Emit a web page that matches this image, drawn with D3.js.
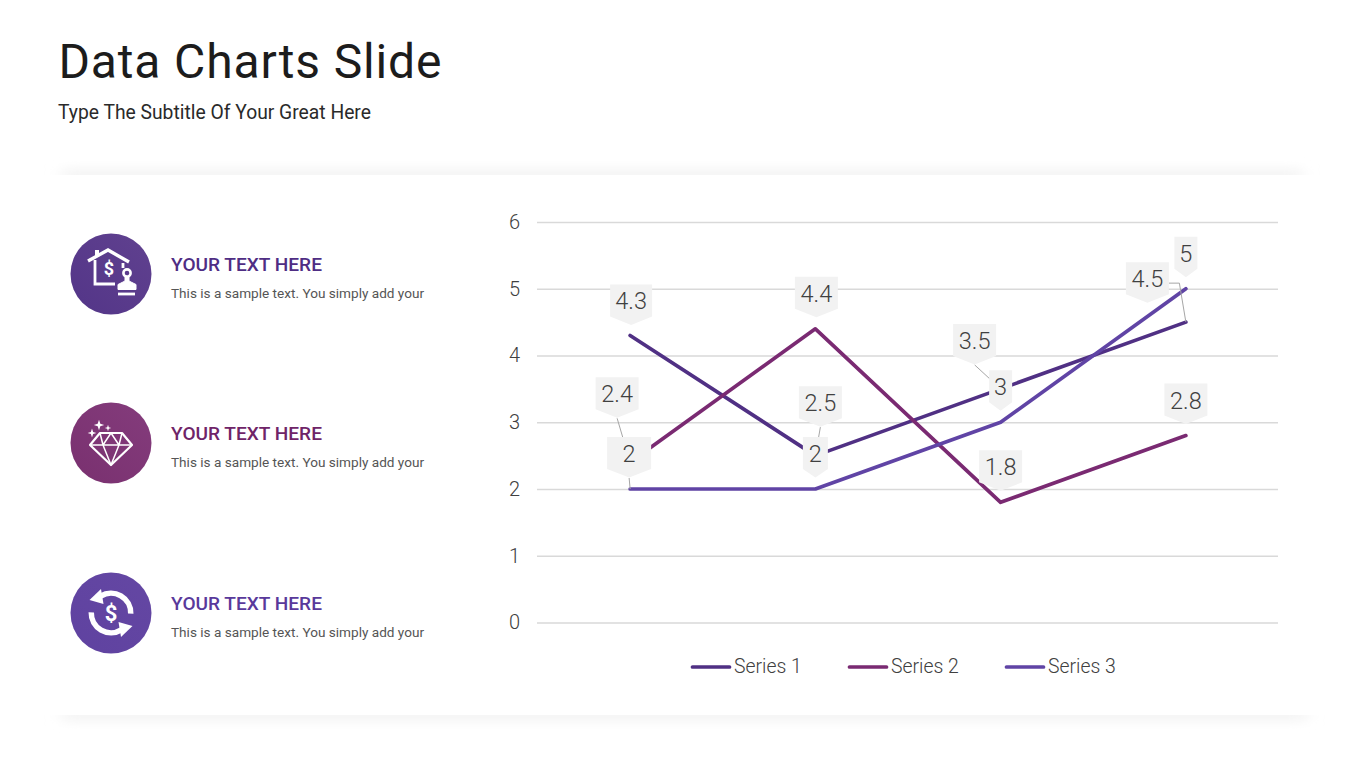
<!DOCTYPE html>
<html>
<head>
<meta charset="utf-8">
<script src="https://cdn.jsdelivr.net/npm/d3@7"></script>
<style>
  html, body { margin: 0; padding: 0; background: #fff; }
  svg { display: block; font-family: Roboto, sans-serif; }
</style>
</head>
<body>
<div id="chart"></div>
<script>
// chart data
const categories = ["Category 1", "Category 2", "Category 3", "Category 4"];
const series1 = [4.3, 2.5, 3.5, 4.5];
const series2 = [2.4, 4.4, 1.8, 2.8];
const series3 = [2, 2, 3, 5];
const seriesNames = ["Series 1", "Series 2", "Series 3"];
const yTicks = [0, 1, 2, 3, 4, 5, 6];
const infoHeadings = ["YOUR TEXT HERE", "YOUR TEXT HERE", "YOUR TEXT HERE"];
const infoText = "This is a sample text. You simply add your";

// layout and colours
const lineColors = ["#503084", "#7a2a72", "#6044a5"];
const circleColors = [["#533588", "#60418f"], ["#79306f", "#843c7c"], ["#5f42a0", "#6447a3"]];
const headingColors = ["#4f2d84", "#6f2468", "#59399b"];
const infoY = [274, 443, 613];

// where each data label sits, relative to its point: dx, dy, box width
const labelLayout = [
  [[1, -34, 42], [5, -52.5, 43], [-26, -48, 43], [-38.5, -43, 43]],
  [[-13, -68, 43], [1, -35, 43], [0, -35, 43], [0, -35, 43]],
  [[-1, -35, 44], [0, -35, 25], [0, -35, 23], [0, -35, 23]]
];
// labels that get a leader line back to the point
const leaders = [[1, 0], [2, 0], [0, 1], [0, 2]];

const svg = d3.select("#chart").append("svg").attr("width", 1370).attr("height", 771);
const defs = svg.append("defs");

defs.append("filter").attr("id", "soft")
  .attr("x", "-5%").attr("y", "-300%").attr("width", "110%").attr("height", "700%")
  .append("feGaussianBlur").attr("stdDeviation", "8 5");

circleColors.forEach((c, i) => {
  const g = defs.append("linearGradient").attr("id", "circle" + i)
    .attr("x1", 0).attr("y1", 1).attr("x2", 1).attr("y2", 0);
  g.append("stop").attr("offset", "0%").attr("stop-color", c[0]);
  g.append("stop").attr("offset", "100%").attr("stop-color", c[1]);
});

// soft band above and below the panel
svg.append("rect").attr("x", 62).attr("y", 168).attr("width", 1240).attr("height", 14)
  .attr("fill", "#f5f5f5").attr("filter", "url(#soft)");
svg.append("rect").attr("x", 62).attr("y", 708).attr("width", 1245).attr("height", 14)
  .attr("fill", "#f5f5f5").attr("filter", "url(#soft)");
svg.append("rect").attr("x", 0).attr("y", 175).attr("width", 1370).attr("height", 540).attr("fill", "#fff");

// title
svg.append("text").attr("x", 58.5).attr("y", 78)
  .attr("font-size", 48).attr("letter-spacing", 0.85).attr("fill", "#1c1c1c").text("Data Charts Slide");
svg.append("text").attr("x", 58).attr("y", 119)
  .attr("font-size", 19.3).attr("fill", "#2a2a2a").text("Type The Subtitle Of Your Great Here");

// left column
const info = svg.selectAll("g.info").data(infoHeadings).enter().append("g")
  .attr("class", "info")
  .attr("transform", (d, i) => `translate(111,${infoY[i]})`);

info.append("circle").attr("r", 40.5).attr("fill", (d, i) => `url(#circle${i})`);
info.append("text").attr("x", 60).attr("y", -3)
  .attr("font-size", 19.1).attr("font-weight", 500)
  .attr("fill", (d, i) => headingColors[i]).text(d => d);
info.append("text").attr("x", 60).attr("y", 24)
  .attr("font-size", 13.6).attr("fill", "#555").text(infoText);

// house and stamp icon
const house = d3.select(info.nodes()[0]).append("g")
  .attr("fill", "none").attr("stroke", "#fff").attr("stroke-width", 2.8);
house.append("path").attr("d", "M-23,-13 L-3,-24 L18,-12").attr("stroke-width", 3.4);
house.append("path").attr("d", "M-14,-24 V-18").attr("stroke-width", 4);
house.append("path").attr("d", "M-16,-14 V10 H4 M12,-11 V-6");
house.append("circle").attr("cx", 16).attr("cy", -1).attr("r", 3.6).attr("stroke-width", 2.6);
house.append("path").attr("d", "M14,3 V7 L7,10.5 V15.5 H25 V10.5 L18,7 V3 Z")
  .attr("fill", "#fff").attr("stroke-width", 1);
house.append("path").attr("d", "M7,20 H24").attr("stroke-width", 2.8);
house.append("text").attr("x", -2).attr("y", 1).attr("text-anchor", "middle")
  .attr("fill", "#fff").attr("stroke", "none")
  .attr("font-size", 18).attr("font-weight", 700).text("$");

// diamond icon
const gem = d3.select(info.nodes()[1]).append("g")
  .attr("fill", "none").attr("stroke", "#fff").attr("stroke-width", 1.5).attr("stroke-linejoin", "round");
gem.append("path").attr("d", "M-11,-10 H11 L21,2 L0,22 L-21,2 Z").attr("stroke-width", 2.2);
gem.append("path").attr("d", "M-21,2 H21 M-11,-10 L-8,2 L0,-10 L8,2 L11,-10 M-8,2 L0,22 L8,2");
const sparkle = "M0,-4 L1,-1 L4,0 L1,1 L0,4 L-1,1 L-4,0 L-1,-1 Z";
gem.selectAll("path.spark").data([[-12, -18, 1.3], [-3, -15, 0.8], [-19, -10, 1.1]]).enter().append("path")
  .attr("class", "spark").attr("d", sparkle).attr("fill", "#fff").attr("stroke", "none")
  .attr("transform", d => `translate(${d[0]},${d[1]}) scale(${d[2]})`);

// circular arrows and dollar icon
const swap = d3.select(info.nodes()[2]).append("g").attr("fill", "#fff");
const ring = d3.arc().innerRadius(17).outerRadius(22.5);
const half = swap.selectAll("g").data([0, 180]).enter().append("g")
  .attr("transform", d => `rotate(${d})`);
half.append("path").attr("d", ring({ startAngle: -0.55, endAngle: 1.6 }));
half.append("path").attr("d", "M-21.5,-13 L-10,-24 L-7.5,-9 Z");
swap.append("text").attr("y", 8).attr("text-anchor", "middle")
  .attr("font-size", 22).attr("font-weight", 700).text("$");

// scales
const x = d3.scaleBand().domain(categories).range([537.5, 1278.5]);
const y = d3.scaleLinear().domain([0, 6]).range([622.5, 222]);
const px = d => x(d) + x.bandwidth() / 2;

// y axis with gridlines
const axis = svg.append("g").attr("transform", "translate(537,0)")
  .call(d3.axisLeft(y).tickValues(yTicks).tickFormat(d3.format("d")).tickSize(-741).tickPadding(17));
axis.select(".domain").remove();
axis.selectAll(".tick line").attr("stroke", "#d9d9d9").attr("stroke-width", 1.4);
axis.selectAll(".tick text").attr("font-family", "Roboto, sans-serif")
  .attr("font-size", 20).attr("font-weight", 300).attr("fill", "#404040");

// series lines
const allSeries = [series1, series2, series3];
const line = d3.line().x((d, i) => px(categories[i])).y(d => y(d));
svg.selectAll("path.series").data(allSeries).enter().append("path")
  .attr("class", "series").attr("d", line).attr("fill", "none")
  .attr("stroke", (d, i) => lineColors[i]).attr("stroke-width", 3.7)
  .attr("stroke-linecap", "round").attr("stroke-linejoin", "round");

// data labels: gathered first so leaders can go under every box
const labels = [];
allSeries.forEach((vals, s) => vals.forEach((v, i) => {
  const [dx, dy, w] = labelLayout[s][i];
  const cx = px(categories[i]), cy = y(v);
  labels.push({ s, i, v, w, px: cx, py: cy, x: cx + dx, y: cy + dy });
}));

const find = (s, i) => labels.find(l => l.s === s && l.i === i);
const leaderPaths = leaders.map(([s, i]) => {
  const l = find(s, i);
  return `M${l.x},${l.y + 24} L${l.px},${l.py}`;
});
// the 4.5 label leaves from its side with a small elbow
const side = find(0, 3);
leaderPaths.push(`M${side.x + 21.5},${side.y + 4} H${side.x + 32} L${side.px},${side.py}`);

svg.selectAll("path.leader").data(leaderPaths).enter().append("path")
  .attr("class", "leader").attr("d", d => d).attr("fill", "none")
  .attr("stroke", "#a6a6a6").attr("stroke-width", 1);

const lab = svg.selectAll("g.label").data(labels).enter().append("g")
  .attr("class", "label").attr("transform", d => `translate(${d.x},${d.y})`);
lab.append("path")
  .attr("d", d => `M${-d.w / 2},-17 H${d.w / 2} V15 L0,23.5 L${-d.w / 2},15 Z`)
  .attr("fill", "#f2f2f2");
lab.append("text").attr("text-anchor", "middle").attr("y", 8)
  .attr("font-size", 23.5).attr("font-weight", 300).attr("fill", "#404040")
  .text(d => d.v);

// legend
const legend = svg.selectAll("g.legend").data(seriesNames).enter().append("g")
  .attr("class", "legend").attr("transform", (d, i) => `translate(${692.5 + i * 157},667)`);
legend.append("line").attr("x1", 0).attr("x2", 37)
  .attr("stroke", (d, i) => lineColors[i]).attr("stroke-width", 3.7).attr("stroke-linecap", "round");
legend.append("text").attr("x", 41.5).attr("y", 6)
  .attr("font-size", 19.4).attr("font-weight", 300).attr("fill", "#404040").text(d => d);
</script>
</body>
</html>
